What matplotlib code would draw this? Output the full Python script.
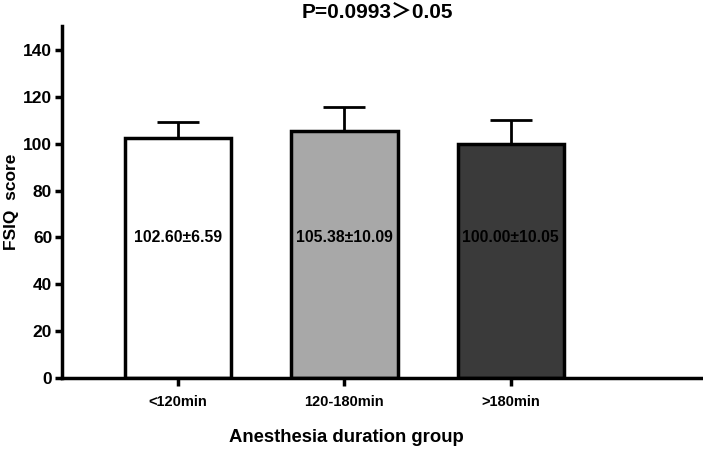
import matplotlib
matplotlib.use("Agg")
import matplotlib.pyplot as plt
import numpy as np

categories = ["<120min", "120-180min", ">180min"]
means = [102.60, 105.38, 100.00]
sds = [6.59, 10.09, 10.05]
bar_labels = ["102.60±6.59", "105.38±10.09", "100.00±10.05"]
colors = ["#ffffff", "#a8a8a8", "#3a3a3a"]
yticks = [0, 20, 40, 60, 80, 100, 120, 140]
title = "P=0.0993＞0.05"

plt.rcParams['font.family'] = ['Liberation Sans', 'Noto Sans CJK SC', 'DejaVu Sans']
plt.rcParams['font.weight'] = 'bold'

fig = plt.figure(figsize=(7.03, 4.53), dpi=100)
ax = fig.add_axes([0.088, 0.1656, 0.92, 0.776])

x = np.arange(len(categories))
ax.bar(x, means, width=0.64, color=colors, edgecolor='black', linewidth=2.5, zorder=2)
ax.errorbar(x, means, yerr=[np.zeros(3), sds], fmt='none', ecolor='black',
            elinewidth=2, capsize=15, capthick=2, zorder=1)
for xi, lab in zip(x, bar_labels):
    ax.text(xi, 60, lab, ha='center', va='center', fontsize=11.3, fontweight='bold', zorder=3)

ax.set_ylim(0, 150)
ax.set_xlim(-0.697, 3.188)
ax.set_yticks(yticks)
ax.set_xticks(x)
ax.set_xticklabels(categories, fontsize=10.5, fontweight='bold')
ax.tick_params(axis='y', labelsize=12.5, width=2.5, length=5, pad=2)
ax.tick_params(axis='x', width=2.5, length=6, pad=6)
for lab in ax.get_yticklabels():
    lab.set_fontweight('bold')
ax.spines['top'].set_visible(False)
ax.spines['right'].set_visible(False)
ax.spines['left'].set_linewidth(2.5)
ax.spines['bottom'].set_linewidth(2.5)

fig.text(0.016, 0.555, "FSIQ  score", rotation=90, ha='center', va='center',
         fontsize=12.5, fontweight='bold')
fig.text(0.493, 0.035, "Anesthesia duration group", ha='center', va='center',
         fontsize=13.3, fontweight='bold')
fig.text(0.537, 0.972, title, ha='center', va='center', fontsize=15, fontweight='bold')

fig.savefig("out.png", dpi=100)
